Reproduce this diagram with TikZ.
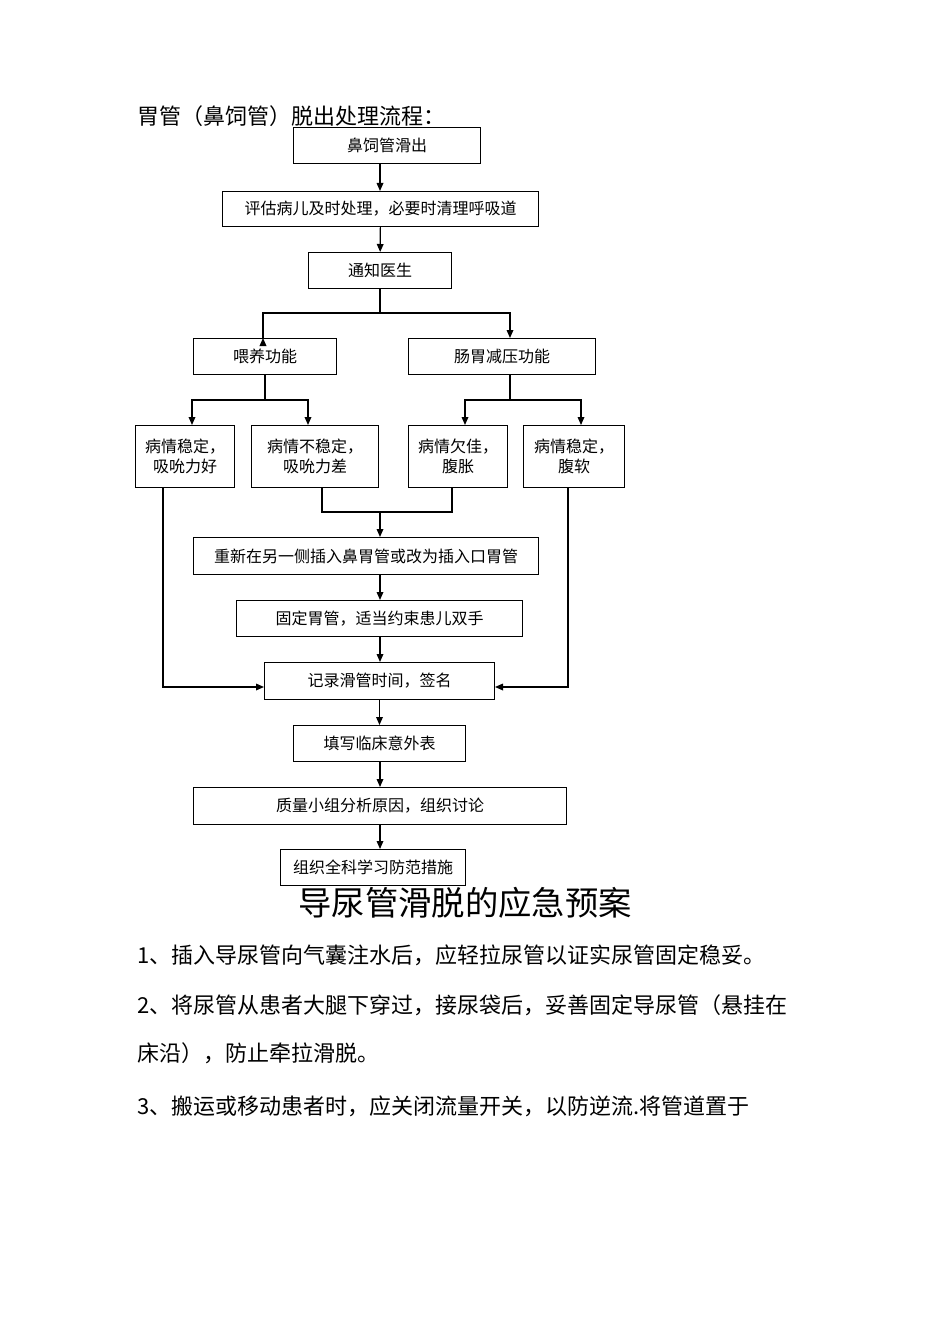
\documentclass[tikz,border=0pt]{standalone}
\usepackage{fontspec}
\setmainfont{Noto Sans CJK SC}
\usetikzlibrary{arrows.meta,calc}
\begin{document}
\begin{tikzpicture}[x=0.75pt,y=-0.75pt,
  bx/.style={draw,line width=0.9pt,font=\fontsize{12}{15}\selectfont,inner sep=0pt,align=center},
  ar/.style={-{Triangle[length=6pt,width=5pt]},line width=0.9pt},
  ln/.style={line width=0.9pt},
  txt/.style={anchor=west,font=\fontsize{16.5}{20}\selectfont,inner sep=0pt}]
\fill[white] (0,0) rectangle (950,1344);
\useasboundingbox (0,0) rectangle (950,1344);
\newcommand{\bxat}[6]{\node[bx,minimum width=#4*0.75pt-0.9pt,minimum height=#5*0.75pt-0.9pt] (#1) at (#2,#3) {#6};}
\node[txt] (title) at (137,116) {胃管（鼻饲管）脱出处理流程：};
\bxat{n1}{387}{145.5}{188}{37}{鼻饲管滑出}
\bxat{n2}{380.5}{209}{317}{36}{评估病儿及时处理，必要时清理呼吸道}
\bxat{n3}{380}{270.5}{144}{37}{通知医生}
\bxat{wy}{265}{356.5}{144}{37}{喂养功能}
\bxat{cw}{502}{356.5}{188}{37}{肠胃减压功能}
\bxat{a}{185}{456.5}{100}{63}{病情稳定，\\吸吮力好}
\bxat{b}{315}{456.5}{128}{63}{病情不稳定，\\吸吮力差}
\bxat{c}{458}{456.5}{100}{63}{病情欠佳，\\腹胀}
\bxat{d}{574}{456.5}{102}{63}{病情稳定，\\腹软}
\bxat{n4}{366}{556}{346}{38}{重新在另一侧插入鼻胃管或改为插入口胃管}
\bxat{n5}{379.5}{618.5}{287}{37}{固定胃管，适当约束患儿双手}
\bxat{n6}{379.5}{681}{231}{38}{记录滑管时间，签名}
\bxat{n7}{379.5}{743.5}{173}{37}{填写临床意外表}
\bxat{n8}{380}{806}{374}{38}{质量小组分析原因，组织讨论}
\bxat{n9}{373}{867.5}{186}{37}{组织全科学习防范措施}
\draw[ar] (n1.south -| 380,0) -- (n2.north -| 380,0);
\draw[ar] (n2) -- (n3);
\coordinate (s1) at (380,313);
\draw[ln] (n3) -- (s1);
\draw[ar] (s1) -| (263,338) -- (wy.north -| 263,0);
\draw[ar] (s1) -| (cw.north -| 510,0);
\coordinate (s2) at (265,400);
\draw[ln] (wy) -- (s2);
\draw[ar] (s2) -| (a.north -| 192,0);
\draw[ar] (s2) -| (b.north -| 308,0);
\coordinate (s3) at (510,400);
\draw[ln] (cw.south -| 510,0) -- (s3);
\draw[ar] (s3) -| (c.north -| 465,0);
\draw[ar] (s3) -| (d.north -| 581,0);
\coordinate (s4) at (380,512);
\draw[ln] (b.south -| 322,0) |- (s4);
\draw[ln] (c.south -| 452,0) |- (s4);
\draw[ar] (s4) -- (n4.north -| 380,0);
\draw[ar] (n4.south -| 380,0) -- (n5.north -| 380,0);
\draw[ar] (n5.south -| 380,0) -- (n6.north -| 380,0);
\draw[ar] (a.south -| 163,0) |- (n6.west |- 0,687);
\draw[ar] (d.south -| 568,0) |- (n6.east |- 0,687);
\draw[ar] (n6) -- (n7);
\draw[ar] (n7.south -| 380,0) -- (n8.north -| 380,0);
\draw[ar] (n8.south -| 380,0) -- (n9.north -| 380,0);
\node[font=\fontsize{25}{30}\selectfont,inner sep=0pt] (h) at (465,903) {导尿管滑脱的应急预案};
\node[txt] (l1) at (137,955) {1、插入导尿管向气囊注水后，应轻拉尿管以证实尿管固定稳妥。};
\node[txt] (l2) at (137,1005) {2、将尿管从患者大腿下穿过，接尿袋后，妥善固定导尿管（悬挂在};
\node[txt] (l3) at (137,1053) {床沿），防止牵拉滑脱。};
\node[txt] (l4) at (137,1106) {3、搬运或移动患者时，应关闭流量开关，以防逆流.将管道置于};
\end{tikzpicture}
\end{document}
